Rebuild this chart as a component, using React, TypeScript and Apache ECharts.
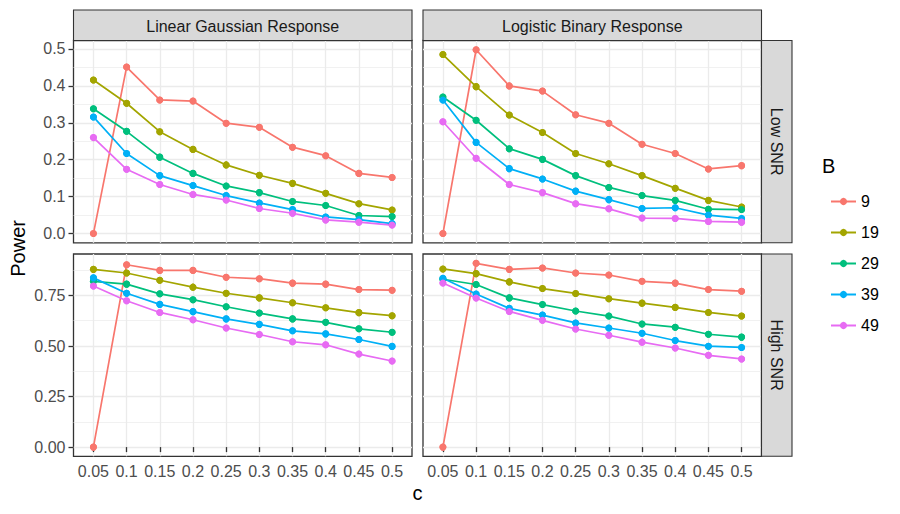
import React, { useEffect, useRef } from "react";
import * as echarts from "echarts";

// ---------- data ----------
const cValues = [0.05, 0.1, 0.15, 0.2, 0.25, 0.3, 0.35, 0.4, 0.45, 0.5];
const cLabels = ["0.05", "0.1", "0.15", "0.2", "0.25", "0.3", "0.35", "0.4", "0.45", "0.5"];
const bLevels = ["9", "19", "29", "39", "49"];
const colTitles = ["Linear Gaussian Response", "Logistic Binary Response"];
const rowTitles = ["Low SNR", "High SNR"];

const lowTicks = [0, 0.1, 0.2, 0.3, 0.4, 0.5];
const lowTickLabels = ["0.0", "0.1", "0.2", "0.3", "0.4", "0.5"];
const lowMinor = [0.05, 0.15, 0.25, 0.35, 0.45];
const highTicks = [0, 0.25, 0.5, 0.75];
const highTickLabels = ["0.00", "0.25", "0.50", "0.75"];
const highMinor = [0.125, 0.375, 0.625, 0.875];

const linLow9 = [0, 0.451, 0.362, 0.359, 0.299, 0.288, 0.234, 0.211, 0.163, 0.152];
const linLow19 = [0.416, 0.353, 0.276, 0.228, 0.186, 0.158, 0.136, 0.109, 0.081, 0.064];
const linLow29 = [0.338, 0.277, 0.207, 0.163, 0.129, 0.111, 0.087, 0.076, 0.049, 0.046];
const linLow39 = [0.316, 0.217, 0.157, 0.13, 0.103, 0.083, 0.065, 0.045, 0.038, 0.027];
const linLow49 = [0.26, 0.174, 0.133, 0.106, 0.091, 0.068, 0.055, 0.037, 0.031, 0.023];

const logLow9 = [0, 0.498, 0.4, 0.386, 0.322, 0.299, 0.242, 0.217, 0.175, 0.184];
const logLow19 = [0.485, 0.398, 0.321, 0.274, 0.217, 0.189, 0.157, 0.123, 0.09, 0.072];
const logLow29 = [0.37, 0.307, 0.23, 0.201, 0.157, 0.125, 0.103, 0.09, 0.066, 0.065];
const logLow39 = [0.362, 0.247, 0.176, 0.148, 0.115, 0.092, 0.068, 0.07, 0.05, 0.041];
const logLow49 = [0.303, 0.204, 0.133, 0.111, 0.081, 0.067, 0.042, 0.041, 0.033, 0.031];

const linHigh9 = [0, 0.902, 0.874, 0.874, 0.84, 0.833, 0.811, 0.806, 0.779, 0.776];
const linHigh19 = [0.879, 0.861, 0.825, 0.791, 0.761, 0.738, 0.714, 0.689, 0.665, 0.65];
const linHigh29 = [0.82, 0.806, 0.758, 0.729, 0.694, 0.663, 0.634, 0.617, 0.585, 0.568];
const linHigh39 = [0.837, 0.761, 0.706, 0.67, 0.634, 0.607, 0.575, 0.56, 0.532, 0.498];
const linHigh49 = [0.797, 0.724, 0.666, 0.63, 0.589, 0.557, 0.521, 0.506, 0.46, 0.426];

const logHigh9 = [0, 0.909, 0.879, 0.886, 0.861, 0.851, 0.82, 0.811, 0.779, 0.771];
const logHigh19 = [0.881, 0.858, 0.817, 0.784, 0.76, 0.734, 0.712, 0.691, 0.666, 0.648];
const logHigh29 = [0.83, 0.804, 0.738, 0.705, 0.673, 0.648, 0.609, 0.593, 0.558, 0.544];
const logHigh39 = [0.835, 0.757, 0.686, 0.653, 0.614, 0.589, 0.563, 0.527, 0.499, 0.493];
const logHigh49 = [0.812, 0.737, 0.671, 0.627, 0.584, 0.553, 0.519, 0.49, 0.454, 0.436];

// panels: [row][col]
const panelValues = [
  [linLow9, linLow19, linLow29, linLow39, linLow49],
  [logLow9, logLow19, logLow29, logLow39, logLow49],
  [linHigh9, linHigh19, linHigh29, linHigh39, linHigh49],
  [logHigh9, logHigh19, logHigh29, logHigh39, logHigh49],
];

const colors = ["#F8766D", "#A3A500", "#00BF7D", "#00B0F6", "#E76BF3"];

const FONT = "'Liberation Sans', Arial, Helvetica, sans-serif";

export default function App() {
  const ref = useRef<HTMLDivElement>(null);

  useEffect(() => {
    document.body.style.margin = "0";
    if (!ref.current) return;
    const chart = echarts.init(ref.current, undefined, { renderer: "svg" });

    const panelLeft = [73.5, 423];
    const panelTop = [40.5, 254];
    const panelW = 338.5;
    const panelH = 202.3;
    const rowRanges = [
      { min: -0.025, max: 0.523, ticks: lowTicks, labels: lowTickLabels, minor: lowMinor },
      { min: -0.0455, max: 0.955, ticks: highTicks, labels: highTickLabels, minor: highMinor },
    ];

    const grids: any[] = [];
    const xAxes: any[] = [];
    const yAxes: any[] = [];
    const lineSeries: any[] = [];
    const pointSeries: any[] = [];

    for (let p = 0; p < 4; p++) {
      const row = Math.floor(p / 2);
      const col = p % 2;
      const rr = rowRanges[row];
      const bottom = row === 1;
      const left = col === 0;
      grids.push({
        left: panelLeft[col],
        top: panelTop[row],
        width: panelW,
        height: panelH,
        show: true,
        borderColor: "#333333",
        borderWidth: 1.3,
        backgroundColor: "#FFFFFF",
        containLabel: false,
      });
      xAxes.push({
        gridIndex: p,
        type: "value",
        min: 0.02,
        max: 0.53,
        axisLine: { show: false },
        axisTick: {
          show: bottom,
          length: 5,
          lineStyle: { color: "#333333", width: 1.3 },
          customValues: cValues,
        },
        axisLabel: {
          show: bottom,
          customValues: cValues,
          margin: 7,
          fontSize: 16,
          fontFamily: FONT,
          color: "#4D4D4D",
          formatter: (v: number) => {
            const i = cValues.indexOf(v);
            return i >= 0 ? cLabels[i] : String(v);
          },
        },
        splitLine: { show: true, lineStyle: { color: "#EBEBEB", width: 1.3 } },
      });
      // main y axis
      yAxes.push({
        gridIndex: p,
        type: "value",
        min: rr.min,
        max: rr.max,
        position: "left",
        axisLine: { show: false },
        axisTick: {
          show: left,
          length: 5,
          lineStyle: { color: "#333333", width: 1.3 },
          customValues: rr.ticks,
        },
        axisLabel: {
          show: left,
          customValues: rr.ticks,
          margin: 8,
          fontSize: 16,
          fontFamily: FONT,
          color: "#4D4D4D",
          formatter: (v: number) => {
            const i = rr.ticks.indexOf(v);
            return i >= 0 ? rr.labels[i] : String(v);
          },
        },
        splitLine: { show: true, lineStyle: { color: "#EBEBEB", width: 1.3 } },
      });
      // minor gridline axis
      yAxes.push({
        gridIndex: p,
        type: "value",
        min: rr.min,
        max: rr.max,
        position: "left",
        axisLine: { show: false },
        axisTick: { show: false, customValues: rr.minor },
        axisLabel: { show: false, customValues: rr.minor },
        splitLine: { show: true, lineStyle: { color: "#EBEBEB", width: 0.7 } },
      });

      for (let b = 0; b < bLevels.length; b++) {
        const vals = panelValues[p][b];
        const data = cValues.map((c, i) => [c, vals[i]]);
        lineSeries.push({
          type: "line",
          name: bLevels[b],
          xAxisIndex: p,
          yAxisIndex: p * 2,
          data,
          symbol: "circle",
          symbolSize: 7,
          showSymbol: true,
          lineStyle: { color: colors[b], width: 1.7 },
          itemStyle: { color: colors[b] },
          z: 2,
          silent: true,
        });
        pointSeries.push({
          type: "scatter",
          name: bLevels[b],
          xAxisIndex: p,
          yAxisIndex: p * 2,
          data,
          symbol: "circle",
          symbolSize: 7,
          itemStyle: { color: colors[b], opacity: 1 },
          z: 3,
          silent: true,
        });
      }
    }

    const graphics: any[] = [];
    // column strips
    for (let col = 0; col < 2; col++) {
      graphics.push({
        type: "rect",
        shape: { x: panelLeft[col], y: 10, width: panelW, height: panelTop[0] - 10 },
        style: { fill: "#D9D9D9", stroke: "#333333", lineWidth: 1.1 },
        z: 10,
      });
      graphics.push({
        type: "text",
        x: panelLeft[col] + panelW / 2,
        y: 26,
        style: {
          text: colTitles[col],
          fontSize: 16,
          fontFamily: FONT,
          fill: "#1A1A1A",
          align: "center",
          verticalAlign: "middle",
        },
        z: 11,
      });
    }
    // row strips
    const stripX = panelLeft[1] + panelW;
    const stripW = 30.5;
    for (let row = 0; row < 2; row++) {
      graphics.push({
        type: "rect",
        shape: { x: stripX, y: panelTop[row], width: stripW, height: panelH },
        style: { fill: "#D9D9D9", stroke: "#333333", lineWidth: 1.1 },
        z: 10,
      });
      graphics.push({
        type: "text",
        x: stripX + stripW / 2,
        y: panelTop[row] + panelH / 2,
        rotation: -Math.PI / 2,
        style: {
          text: rowTitles[row],
          fontSize: 16,
          fontFamily: FONT,
          fill: "#1A1A1A",
          align: "center",
          verticalAlign: "middle",
        },
        z: 11,
      });
    }
    // axis titles
    graphics.push({
      type: "text",
      x: 17.5,
      y: (panelTop[0] + panelTop[1] + panelH) / 2,
      rotation: Math.PI / 2,
      style: {
        text: "Power",
        fontSize: 20,
        fontFamily: FONT,
        fill: "#000000",
        align: "center",
        verticalAlign: "middle",
      },
    });
    graphics.push({
      type: "text",
      x: (panelLeft[0] + panelLeft[1] + panelW) / 2,
      y: 493,
      style: {
        text: "c",
        fontSize: 20,
        fontFamily: FONT,
        fill: "#000000",
        align: "center",
        verticalAlign: "middle",
      },
    });
    // legend title
    graphics.push({
      type: "text",
      x: 822,
      y: 166,
      style: {
        text: "B",
        fontSize: 20,
        fontFamily: FONT,
        fill: "#000000",
        align: "left",
        verticalAlign: "middle",
      },
    });

    chart.setOption({
      animation: false,
      backgroundColor: "#FFFFFF",
      grid: grids,
      xAxis: xAxes,
      yAxis: yAxes,
      legend: {
        data: bLevels,
        orient: "vertical",
        left: 825,
        top: 188.5,
        itemWidth: 25,
        itemHeight: 9,
        itemGap: 15,
        itemTextGap: 12,
        selectedMode: false,
        textStyle: { fontSize: 16, fontFamily: FONT, color: "#000000", lineHeight: 16 },
      },
      series: [...lineSeries, ...pointSeries],
      graphic: graphics,
    });

    return () => {
      chart.dispose();
    };
  }, []);

  return <div ref={ref} style={{ width: 900, height: 514 }} />;
}
